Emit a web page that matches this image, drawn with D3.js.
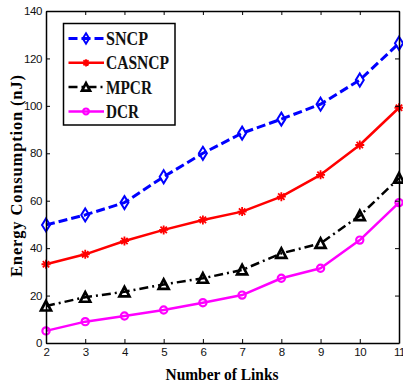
<!DOCTYPE html>
<html>
<head>
<meta charset="utf-8">
<script src="https://cdn.jsdelivr.net/npm/d3@7/dist/d3.min.js"></script>
<style>
  html, body { margin: 0; padding: 0; background: #fff; }
  svg { display: block; }
</style>
</head>
<body>
<svg id="chart" width="403" height="388"></svg>
<script>
const links = [2, 3, 4, 5, 6, 7, 8, 9, 10, 11];
const sncp   = [49.8, 54.0, 59.2, 70.1, 80.0, 88.5, 94.4, 100.7, 110.9, 126.4];
const casncp = [33.2, 37.4, 43.0, 47.7, 51.9, 55.4, 61.7, 70.9, 83.5, 99.2];
const mpcr   = [15.6, 19.3, 21.6, 24.7, 27.3, 30.8, 37.8, 42.0, 53.7, 69.5];
const dcr    = [5.1, 9.0, 11.4, 13.9, 17.0, 20.2, 27.3, 31.5, 43.4, 59.2];
const seriesNames = ["SNCP", "CASNCP", "MPCR", "DCR"];
const yTicks = [0, 20, 40, 60, 80, 100, 120, 140];
const xLabel = "Number of Links";
const yLabel = "Energy Consumption (nJ)";

const styles = [
  { color: "#0000ff", dash: "9,4", width: 3, marker: "diamond", mw: 2 },
  { color: "#ff0000", dash: null, width: 2.5, marker: "star", mw: 1.8 },
  { color: "#000000", dash: "9,4,2,4", width: 2.5, marker: "triangle", mw: 2.7 },
  { color: "#ff00ff", dash: null, width: 2.5, marker: "circle", mw: 2.2 }
];
const allSeries = [sncp, casncp, mpcr, dcr];

const svg = d3.select("#chart");
const L = 46, R = 399, T = 11, B = 343;
const x = d3.scaleLinear().domain([2, 11]).range([L, R]);
const y = d3.scaleLinear().domain([0, 140]).range([B, T]);

function markerPath(type, s) {
  if (type === "diamond") {
    const w = 4 * s, h = 6.5 * s;
    return `M0,${-h}L${w},0L0,${h}L${-w},0Z`;
  }
  if (type === "star") {
    const a = 4.5 * s, b = 3.2 * s;
    return `M${-a},0L${a},0M0,${-a}L0,${a}M${-b},${-b}L${b},${b}M${-b},${b}L${b},${-b}`;
  }
  if (type === "triangle") {
    const h = 5 * s;
    return `M0,${-h}L${h},${h * 0.9}L${-h},${h * 0.9}Z`;
  }
  const r = 3.6 * s;
  return `M${r},0A${r},${r} 0 1,1 ${-r},0A${r},${r} 0 1,1 ${r},0Z`;
}

// series
const line = d3.line().x((d, i) => x(links[i])).y(d => y(d));
allSeries.forEach((vals, k) => {
  const st = styles[k];
  const g = svg.append("g");
  g.append("path").datum(vals).attr("d", line)
    .attr("fill", "none").attr("stroke", st.color)
    .attr("stroke-width", st.width)
    .attr("stroke-dasharray", st.dash)
    .attr("stroke-linejoin", "round");
  g.selectAll("path.m").data(vals).enter().append("path")
    .attr("class", "m")
    .attr("d", markerPath(st.marker, 1))
    .attr("transform", (d, i) => `translate(${x(links[i])},${y(d)})`)
    .attr("fill", "none").attr("stroke", st.color)
    .attr("stroke-width", st.mw);
});

// axes
function styleAxis(g) {
  g.selectAll(".domain").attr("stroke", "#000").attr("stroke-width", 1.5);
  g.selectAll(".tick line").attr("stroke", "#000").attr("stroke-width", 1);
  g.selectAll(".tick text").attr("fill", "#111")
    .style("font-family", "'Liberation Sans', Arial, sans-serif")
    .style("font-size", "11.5px").style("letter-spacing", "-0.4px");
}
svg.append("g").attr("transform", `translate(0,${B})`)
  .call(d3.axisBottom(x).tickValues(links).tickFormat(d3.format("d"))
    .tickSizeInner(-4).tickSizeOuter(0).tickPadding(5)).call(styleAxis);
svg.append("g").attr("transform", `translate(0,${T})`)
  .call(d3.axisTop(x).tickValues(links).tickFormat("")
    .tickSizeInner(-4).tickSizeOuter(0)).call(styleAxis);
svg.append("g").attr("transform", `translate(${L},0)`)
  .call(d3.axisLeft(y).tickValues(yTicks).tickFormat(d3.format("d"))
    .tickSizeInner(-4).tickSizeOuter(0).tickPadding(4)).call(styleAxis);
svg.append("g").attr("transform", `translate(${R},0)`)
  .call(d3.axisRight(y).tickValues(yTicks).tickFormat("")
    .tickSizeInner(-4).tickSizeOuter(0)).call(styleAxis);

// axis labels
const serif = "'Liberation Serif', 'Times New Roman', serif";
svg.append("text").text(xLabel)
  .attr("x", 222).attr("y", 380).attr("text-anchor", "middle")
  .attr("textLength", 113).attr("lengthAdjust", "spacingAndGlyphs")
  .style("font-family", serif).style("font-weight", "bold").style("font-size", "17px");
svg.append("text").text(yLabel)
  .attr("transform", "translate(22,176) rotate(-90)")
  .attr("text-anchor", "middle")
  .attr("textLength", 202).attr("lengthAdjust", "spacing")
  .style("font-family", serif).style("font-weight", "bold").style("font-size", "16.5px");

// legend
const lg = svg.append("g");
lg.append("rect").attr("x", 63.5).attr("y", 23.5).attr("width", 111.5).attr("height", 101.5)
  .attr("fill", "#fff").attr("stroke", "#000").attr("stroke-width", 1.5);
const legendW = [42, 63, 46, 33];
seriesNames.forEach((name, k) => {
  const st = styles[k];
  const cy = 38.5 + k * 24.3;
  lg.append("line").attr("x1", 68.5).attr("x2", 104).attr("y1", cy).attr("y2", cy)
    .attr("stroke", st.color).attr("stroke-width", st.width)
    .attr("stroke-dasharray", st.dash);
  lg.append("path").attr("d", markerPath(st.marker, 0.8))
    .attr("transform", `translate(86,${cy})`)
    .attr("fill", "none").attr("stroke", st.color).attr("stroke-width", st.mw);
  lg.append("text").text(name).attr("x", 106).attr("y", cy + 6.5)
    .attr("textLength", legendW[k]).attr("lengthAdjust", "spacingAndGlyphs")
    .style("font-family", serif).style("font-weight", "bold").style("font-size", "18px")
    .attr("fill", "#111");
});
</script>
</body>
</html>
